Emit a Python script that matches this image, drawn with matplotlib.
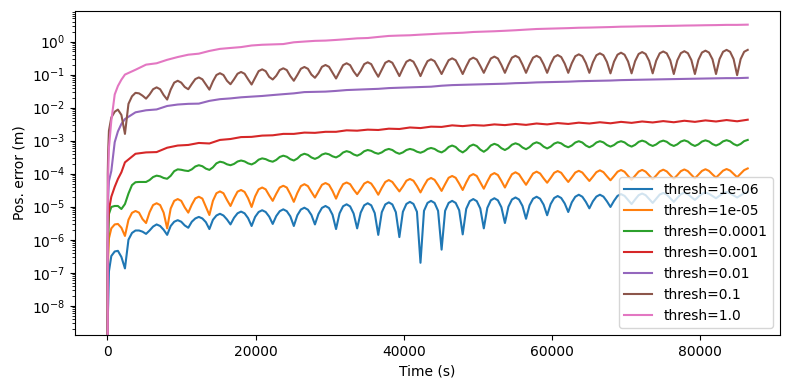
import matplotlib
matplotlib.use("Agg")
import matplotlib.pyplot as plt
import numpy as np

# sample times (s), six samples per half orbit (trough ... peak ...)
t_fine = [0, 60, 120, 220, 540, 1000, 1430, 1900,
          2380, 2855, 3329, 3804, 4279, 4753, 5228, 5703, 6177, 6652, 7127, 7601,
          8076, 8551, 9025, 9500, 9975, 10449, 10924, 11399, 11873, 12348, 12823, 13297,
          13772, 14247, 14721, 15196, 15671, 16145, 16620, 17095, 17569, 18044, 18519, 18993,
          19468, 19943, 20417, 20892, 21367, 21841, 22316, 22791, 23265, 23740, 24215, 24689,
          25164, 25639, 26113, 26588, 27063, 27537, 28012, 28487, 28961, 29436, 29911, 30385,
          30860, 31335, 31809, 32284, 32759, 33233, 33708, 34183, 34657, 35132, 35607, 36081,
          36556, 37031, 37505, 37980, 38455, 38929, 39404, 39879, 40353, 40828, 41303, 41777,
          42252, 42727, 43201, 43676, 44151, 44625, 45100, 45575, 46049, 46524, 46999, 47473,
          47948, 48423, 48897, 49372, 49847, 50321, 50796, 51271, 51745, 52220, 52695, 53169,
          53644, 54119, 54593, 55068, 55543, 56017, 56492, 56967, 57441, 57916, 58391, 58865,
          59340, 59815, 60289, 60764, 61239, 61713, 62188, 62663, 63137, 63612, 64087, 64561,
          65036, 65511, 65985, 66460, 66935, 67409, 67884, 68359, 68833, 69308, 69783, 70257,
          70732, 71207, 71681, 72156, 72631, 73105, 73580, 74055, 74529, 75004, 75479, 75953,
          76428, 76903, 77377, 77852, 78327, 78801, 79276, 79751, 80225, 80700, 81175, 81649,
          82124, 82599, 83073, 83548, 84023, 84497, 84972, 85447, 85921, 86400]

# sample times (s), trough / peak every half orbit
t_half = [0, 60, 120, 220, 540, 1000, 1430, 1900,
          2380, 3804, 5228, 6652, 8076, 9500, 10924, 12348,
          13772, 15196, 16620, 18044, 19468, 20892, 22316, 23740,
          25164, 26588, 28012, 29436, 30860, 32284, 33708, 35132,
          36556, 37980, 39404, 40828, 42252, 43676, 45100, 46524,
          47948, 49372, 50796, 52220, 53644, 55068, 56492, 57916,
          59340, 60764, 62188, 63612, 65036, 66460, 67884, 69308,
          70732, 72156, 73580, 75004, 76428, 77852, 79276, 80700,
          82124, 83548, 84972, 86400]

thresholds = [1e-06, 1e-05, 0.0001, 0.001, 0.01, 0.1, 1.0]

# thresh=1e-06, units of 1e-6 m (on t_fine)
err_1e6 = [0, 0.004, 0.012, 0.11, 0.32, 0.44, 0.46, 0.30,
           0.135, 1.0, 1.6, 1.9, 1.9, 1.75, 1.5, 1.9, 2.5, 2.9, 2.6, 2.0,
           1.4, 2.6, 3.5, 3.9, 3.5, 2.7, 2.3, 3.5, 4.4, 4.9, 4.4, 3.4,
           2.1, 4.0, 5.4, 6.1, 5.4, 4.1, 2.9, 4.6, 6.3, 7.1, 6.3, 4.5,
           2.6, 4.9, 6.9, 7.8, 6.9, 5.0, 3.0, 5.2, 7.3, 8.3, 7.3, 5.1,
           2.6, 5.5, 8.2, 9.3, 8.1, 5.6, 2.9, 6.0, 9.2, 10.5, 9.1, 5.7,
           2.1, 6.3, 10.3, 11.8, 10.2, 6.2, 2.2, 6.6, 11.0, 12.7, 11.0, 6.4,
           1.4, 6.8, 11.7, 13.5, 11.7, 6.8, 1.2, 7.0, 12.1, 14.0, 12.1, 7.0,
           0.2, 7.5, 13.0, 15.0, 13.0, 7.5, 0.5, 7.5, 13.0, 15.0, 13.0, 7.8,
           1.45, 8.6, 14.7, 17.0, 14.7, 8.8, 2.2, 9.2, 15.6, 18.0, 15.6, 9.6,
           3.2, 10.0, 16.5, 19.0, 16.5, 10.5, 4.3, 11.0, 17.4, 20.0, 17.4, 11.5,
           5.5, 12.0, 18.3, 21.0, 18.3, 12.5, 6.9, 13.5, 20.0, 23.0, 20.0, 14.0,
           8.9, 14.5, 20.2, 23.0, 20.2, 14.5, 9.8, 15.0, 21.2, 24.0, 21.2, 16.0,
           12.0, 16.5, 22.3, 25.0, 22.3, 17.0, 13.0, 17.5, 23.3, 26.0, 23.3, 18.0,
           14.0, 18.5, 23.8, 26.5, 23.8, 19.5, 16.0, 20.0, 24.4, 27.0, 24.5, 21.0,
           18.0, 21.5, 25.3, 28.0, 25.3, 22.0, 19.0, 22.0, 25.5, 28.0]

# thresh=1e-05, units of 1e-5 m (on t_fine)
err_1e5 = [0, 0.004, 0.035, 0.11, 0.22, 0.29, 0.30, 0.23,
           0.13, 0.40, 0.65, 0.74, 0.66, 0.42, 0.32, 0.68, 1.12, 1.27, 1.12, 0.66,
           0.22, 0.88, 1.5, 1.7, 1.5, 0.95, 0.66, 1.15, 1.78, 2.0, 1.76, 1.0,
           0.56, 1.5, 2.55, 2.9, 2.55, 1.6, 1.05, 1.8, 2.85, 3.2, 2.8, 1.8,
           0.98, 2.05, 3.35, 3.8, 3.35, 2.2, 1.5, 2.45, 3.8, 4.3, 3.8, 2.4,
           1.4, 2.6, 4.2, 4.8, 4.2, 2.8, 1.9, 3.0, 4.6, 5.2, 4.6, 3.0,
           1.75, 3.1, 4.8, 5.4, 4.8, 3.3, 2.4, 3.4, 5.0, 5.7, 5.0, 3.5,
           2.3, 3.7, 5.6, 6.4, 5.6, 4.0, 2.9, 4.1, 6.1, 6.9, 6.1, 4.2,
           2.7, 4.3, 6.5, 7.4, 6.5, 4.5, 3.0, 4.8, 7.5, 8.5, 7.5, 5.0,
           3.2, 5.4, 8.5, 9.7, 8.5, 5.5, 3.5, 5.8, 9.1, 10.4, 9.1, 6.0,
           3.8, 6.2, 9.6, 11.0, 9.6, 6.6, 4.6, 6.8, 10.1, 11.5, 10.1, 7.2,
           5.3, 7.4, 10.6, 12.0, 10.6, 7.6, 5.6, 7.7, 10.8, 12.2, 10.8, 8.0,
           6.0, 8.1, 11.1, 12.6, 11.1, 8.3, 6.3, 8.4, 11.4, 12.9, 11.4, 8.5,
           6.5, 8.6, 11.5, 13.0, 11.5, 8.8, 6.8, 8.8, 11.7, 13.2, 11.7, 9.0,
           7.0, 9.0, 11.9, 13.4, 11.9, 9.2, 7.2, 9.3, 12.1, 13.6, 12.1, 9.5,
           7.6, 9.6, 12.3, 13.8, 12.4, 9.8, 7.8, 10.0, 12.8, 14.4]

# thresh=0.0001, units of 1e-4 m (on t_fine)
err_1e4 = [0, 0.001, 0.01, 0.06, 0.098, 0.105, 0.105, 0.085,
           0.12, 0.25, 0.45, 0.55, 0.56, 0.56, 0.56, 0.64, 0.79, 0.87, 0.83, 0.74,
           0.70, 0.86, 1.19, 1.35, 1.31, 1.24, 1.2, 1.35, 1.65, 1.8, 1.68, 1.42,
           1.3, 1.55, 2.05, 2.3, 2.18, 1.92, 1.8, 1.97, 2.33, 2.5, 2.35, 2.05,
           1.9, 2.15, 2.65, 2.9, 2.75, 2.45, 2.3, 2.6, 3.2, 3.5, 3.25, 2.75,
           2.5, 2.87, 3.62, 4.0, 3.7, 3.1, 2.8, 3.12, 3.78, 4.1, 3.85, 3.35,
           3.1, 3.52, 4.37, 4.8, 4.47, 3.82, 3.5, 3.92, 4.77, 5.2, 4.9, 4.3,
           4.0, 4.4, 5.2, 5.6, 5.2, 4.4, 4.0, 4.4, 5.2, 5.6, 5.27, 4.62,
           4.3, 4.72, 5.57, 6.0, 5.6, 4.8, 4.4, 5.07, 6.42, 7.1, 6.42, 5.07,
           4.4, 5.2, 6.8, 7.6, 6.85, 5.35, 4.6, 5.45, 7.15, 8.0, 7.3, 5.9,
           5.2, 5.97, 7.52, 8.3, 7.6, 6.2, 5.5, 6.35, 8.05, 8.9, 8.12, 6.57,
           5.8, 6.57, 8.12, 8.9, 8.25, 6.95, 6.3, 7.12, 8.77, 9.6, 8.77, 7.12,
           6.3, 7.12, 8.77, 9.6, 8.85, 7.35, 6.6, 7.35, 8.85, 9.6, 8.85, 7.35,
           6.6, 7.45, 9.15, 10.0, 9.22, 7.67, 6.9, 7.67, 9.22, 10.0, 9.22, 7.67,
           6.9, 7.72, 9.37, 10.2, 9.37, 7.72, 6.9, 7.72, 9.37, 10.2, 9.42, 7.87,
           7.1, 7.9, 9.5, 10.3, 9.5, 7.9, 7.1, 7.95, 9.65, 10.5]

# thresh=0.001, units of 1e-3 m (on t_half)
err_1e3 = [0, 0.0008, 0.003, 0.008, 0.02, 0.04, 0.069, 0.11,
           0.22, 0.40, 0.44, 0.45, 0.61, 0.71, 0.74, 0.85,
           0.82, 1.05, 1.12, 1.28, 1.3, 1.42, 1.45, 1.6,
           1.6, 1.75, 1.72, 1.85, 1.85, 2.05, 2.0, 2.15,
           2.1, 2.3, 2.25, 2.5, 2.4, 2.65, 2.6, 2.9,
           2.75, 2.95, 2.85, 3.1, 2.95, 3.2, 3.0, 3.3,
           3.1, 3.4, 3.2, 3.5, 3.3, 3.6, 3.35, 3.7,
           3.45, 3.8, 3.55, 3.9, 3.6, 4.0, 3.7, 4.1,
           3.8, 4.2, 3.85, 4.3]

# thresh=0.01, units of 1e-2 m (on t_half)
err_1e2 = [0, 0.0005, 0.002, 0.006, 0.012, 0.09, 0.19, 0.32,
           0.45, 0.72, 0.83, 0.88, 1.12, 1.24, 1.3, 1.32,
           1.6, 1.8, 1.9, 2.05, 2.15, 2.25, 2.4, 2.55,
           2.7, 2.95, 3.0, 3.05, 3.2, 3.4, 3.5, 3.6,
           3.7, 3.9, 4.0, 4.1, 4.2, 4.3, 4.6, 4.8,
           4.9, 5.0, 5.1, 5.2, 5.3, 5.5, 5.6, 5.8,
           5.9, 6.0, 6.1, 6.3, 6.4, 6.5, 6.6, 6.8,
           6.9, 7.0, 7.1, 7.2, 7.3, 7.4, 7.5, 7.6,
           7.7, 7.8, 7.8, 8.0]

# thresh=0.1, in m (on t_fine)
err_1e1 = [0, 0.0001, 0.0005, 0.002, 0.005, 0.0075, 0.0087, 0.006,
           0.0016, 0.013, 0.022, 0.028, 0.027, 0.023, 0.0187, 0.025, 0.036, 0.041, 0.036, 0.024,
           0.0175, 0.035, 0.057, 0.065, 0.057, 0.042, 0.036, 0.052, 0.073, 0.082, 0.072, 0.05,
           0.035, 0.062, 0.097, 0.11, 0.097, 0.065, 0.051, 0.072, 0.106, 0.12, 0.106, 0.072,
           0.05, 0.08, 0.127, 0.144, 0.127, 0.085, 0.071, 0.092, 0.137, 0.155, 0.137, 0.09,
           0.065, 0.097, 0.15, 0.17, 0.15, 0.10, 0.08, 0.11, 0.172, 0.195, 0.172, 0.115,
           0.076, 0.122, 0.193, 0.22, 0.193, 0.125, 0.09, 0.13, 0.207, 0.235, 0.207, 0.13,
           0.086, 0.14, 0.228, 0.26, 0.228, 0.145, 0.09, 0.153, 0.245, 0.28, 0.245, 0.155,
           0.09, 0.158, 0.255, 0.29, 0.255, 0.165, 0.104, 0.17, 0.272, 0.31, 0.272, 0.172,
           0.104, 0.177, 0.285, 0.325, 0.285, 0.183, 0.113, 0.19, 0.307, 0.35, 0.307, 0.195,
           0.113, 0.20, 0.325, 0.37, 0.325, 0.20, 0.113, 0.20, 0.325, 0.37, 0.325, 0.205,
           0.113, 0.21, 0.34, 0.39, 0.34, 0.215, 0.113, 0.22, 0.36, 0.41, 0.36, 0.225,
           0.113, 0.235, 0.385, 0.44, 0.385, 0.24, 0.109, 0.245, 0.40, 0.46, 0.40, 0.25,
           0.109, 0.255, 0.42, 0.48, 0.42, 0.26, 0.109, 0.265, 0.44, 0.50, 0.44, 0.27,
           0.104, 0.27, 0.445, 0.51, 0.445, 0.275, 0.104, 0.28, 0.465, 0.53, 0.465, 0.29,
           0.104, 0.295, 0.49, 0.56, 0.49, 0.295, 0.096, 0.295, 0.49, 0.56]

# thresh=1.0, in m (on t_half)
err_1e0 = [0, 0.00001, 0.0001, 0.0006, 0.004, 0.025, 0.045, 0.07,
           0.10, 0.14, 0.20, 0.22, 0.28, 0.34, 0.40, 0.43,
           0.52, 0.60, 0.64, 0.68, 0.76, 0.80, 0.82, 0.84,
           0.95, 1.0, 1.05, 1.07, 1.12, 1.18, 1.25, 1.28,
           1.38, 1.48, 1.52, 1.55, 1.62, 1.68, 1.75, 1.8,
           1.85, 1.95, 2.0, 2.05, 2.12, 2.2, 2.3, 2.4,
           2.45, 2.5, 2.55, 2.62, 2.65, 2.7, 2.75, 2.82,
           2.85, 2.9, 2.92, 2.97, 3.0, 3.05, 3.08, 3.12,
           3.15, 3.2, 3.2, 3.25]

series = [(t_fine, np.array(err_1e6) * 1e-6),
          (t_fine, np.array(err_1e5) * 1e-5),
          (t_fine, np.array(err_1e4) * 1e-4),
          (t_half, np.array(err_1e3) * 1e-3),
          (t_half, np.array(err_1e2) * 1e-2),
          (t_fine, np.array(err_1e1)),
          (t_half, np.array(err_1e0))]

fig, ax = plt.subplots(figsize=(7.9, 3.9), dpi=100)
for thr, (t, e) in zip(thresholds, series):
    ax.plot(t, e, label=f"thresh={thr}")

ax.set_yscale("log")
ax.set_xlim(-4320, 90720)
ax.set_ylim(1.3e-9, 8.7)
ax.set_xlabel("Time (s)")
ax.set_ylabel("Pos. error (m)")
ax.legend(loc="lower right")

fig.subplots_adjust(left=0.0953, right=0.987, top=0.973, bottom=0.141)
fig.savefig("out.png")
